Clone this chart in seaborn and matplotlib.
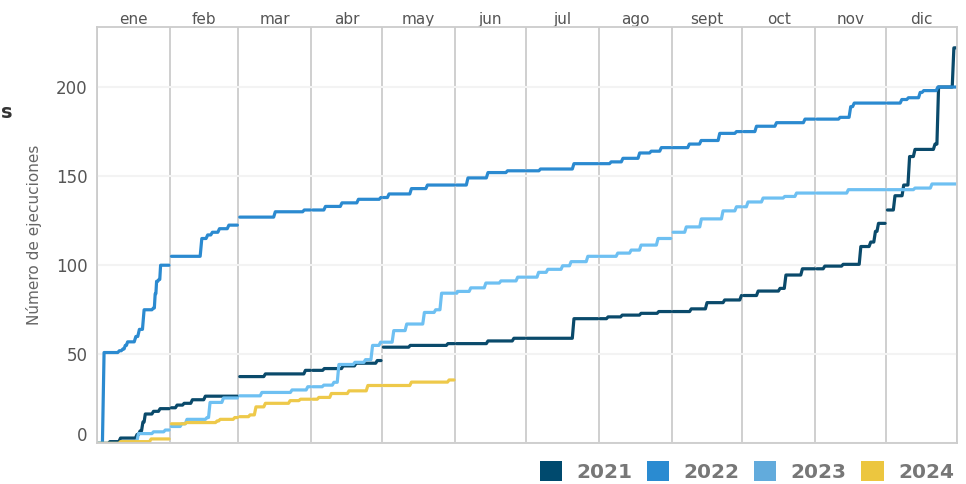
import numpy as np
import pandas as pd
import seaborn as sns
import matplotlib.pyplot as plt
import matplotlib.transforms as mtransforms
from matplotlib.patches import Patch

# ---------------- data ----------------
months = ["ene", "feb", "mar", "abr", "may", "jun", "jul", "ago", "sept", "oct", "nov", "dic"]
month_starts = [0, 31, 60, 91, 121, 152, 182, 213, 244, 274, 305, 335, 365]
years = ["2021", "2022", "2023", "2024"]
yticks = [0, 50, 100, 150, 200]

days_2021 = [0, 5.5, 10, 17, 18.3, 19.5, 20.5, 24, 26.8, 31.5, 34, 37, 40.5, 46, 60.5, 71.5, 88.5,
             96.5, 104.5, 110, 119, 121, 133, 149, 166, 177, 202.5, 217, 223, 231, 238.5, 252.3,
             259, 266.5, 273.6, 280.7, 290, 292.5, 299.5, 309, 316.8, 324.3, 328.5, 330.5, 331.8,
             335.5, 338.8, 342.5, 345, 347.3, 355.8, 357.3, 363.8, 365]
vals_2021 = [0, 1, 3, 5, 7, 12, 16.5, 18, 19.5, 20, 21.5, 22.5, 24.5, 26.5, 37.5, 39, 41,
             42, 43.5, 45, 46.5, 54, 55, 56, 57.5, 59, 70, 71, 72, 73, 74, 75.5,
             79, 80.5, 83, 85.5, 87, 94.5, 98, 99.5, 100.5, 110.5, 113, 119, 123.5,
             131, 139, 145, 161, 165, 168, 200, 222, 222]

days_2022 = [0, 3, 9.5, 11, 12, 13, 16.5, 18, 20, 24, 24.7, 25.3, 26.3, 27, 31.5, 44.5, 47, 49,
             52, 56, 60.5, 75.7, 88, 97, 104, 111, 120.5, 124, 133.5, 140.3, 157.5, 166, 174.3,
             188.3, 202.5, 218.3, 223.3, 230.4, 235.3, 239.6, 251.5, 256.5, 264.4, 271.5, 280,
             288.5, 300.6, 315.5, 320, 321.5, 341.7, 344.5, 349.5, 351, 357, 365]
vals_2022 = [0, 51, 52, 53, 55, 57, 60, 64, 75, 76, 84, 91, 92, 100, 105, 115, 117, 118.5,
             120.5, 122.5, 127, 130, 131, 133, 135, 137, 138, 140, 143, 145, 149, 152, 153,
             154, 157, 158, 160, 163, 164, 166, 168, 170, 174, 175, 178,
             180, 182, 183, 189, 191, 193, 194, 197, 198, 200, 200]

days_2023 = [0, 11, 17.6, 24, 29, 31.5, 36, 38.2, 46.7, 48, 53.7, 60.5, 70, 82.8, 89.5, 96.3,
             100.6, 102.7, 109.5, 114, 117, 120.4, 126, 131.5, 139, 143.8, 146.3, 153, 158.7,
             165.1, 171.5, 178.6, 187.5, 191.4, 197.7, 201.3, 208.4, 221.1, 226.8, 231, 238.2,
             243.8, 250.2, 256.6, 265.8, 271.5, 276.4, 282.8, 292, 297, 319, 347.3, 354.5, 365]
vals_2023 = [0, 1, 5.5, 6.5, 7.5, 9.5, 11, 13.5, 14.5, 23, 25.5, 26.7, 28.6, 30, 31.8, 32.7,
             34.3, 44.3, 45.5, 47, 55, 56.8, 63.3, 67, 73.5, 75, 84.3, 85.3, 87.3,
             90, 91.2, 93.3, 96, 97.7, 99.7, 102, 105, 106.8, 108.5, 111.3, 115,
             118.5, 121.5, 126, 130.5, 132.8, 135.5, 137.7, 138.6, 140.5, 142.4, 143.3, 145.6, 145.6]

days_2024 = [0, 10, 23, 31.5, 38, 51, 52.3, 58.5, 60.5, 65, 67.5, 71.5, 82, 86.4, 94.2, 99.5,
             107, 115, 133.5, 149.5, 152]
vals_2024 = [0, 1, 2.5, 11, 11.7, 12.6, 13.5, 14.5, 15, 16, 20.5, 22.5, 24, 24.8, 25.8, 28,
             29.5, 32.5, 34.4, 35.6, 35.6]

line_colors = ["#0a4a6b", "#2b8ad0", "#6ec0f2", "#eec94a"]
legend_colors = ["#004a6e", "#2a8bd1", "#62abdc", "#ecc63f"]

series = {"2021": (days_2021, vals_2021), "2022": (days_2022, vals_2022),
          "2023": (days_2023, vals_2023), "2024": (days_2024, vals_2024)}


def value_at(days, vals, x):
    idx = np.searchsorted(np.asarray(days), x, side="right") - 1
    return vals[max(idx, 0)]


RAMP = 0.7  # each daily change drawn as a short ramp, like the reference
rows = []
for yr, (d, v) in series.items():
    last = d[-1]
    for m in range(12):
        a, b = month_starts[m], month_starts[m + 1]
        if a >= last:
            break
        start = a + 0.6 if m > 0 else a
        end = min(b - 0.4 if m < 11 else b, last)
        seg = f"{yr}-{m}"
        pts = [(start, value_at(d, v, start))]
        for di, vi in zip(d, v):
            if start < di < end:
                pts.append((di, vi))
        pts.append((end, value_at(d, v, end)))
        rows.append((yr, seg, pts[0][0], pts[0][1]))
        for (x0, y0), (x1, y1) in zip(pts[:-1], pts[1:]):
            if y1 != y0:
                r = min(RAMP, (x1 - x0) / 2)
                rows.append((yr, seg, x1 - r, y0))
            rows.append((yr, seg, x1, y1))

df = pd.DataFrame(rows, columns=["year", "seg", "day", "value"])

# ---------------- figure ----------------
sns.set_theme(style="white")
plt.rcParams["font.family"] = ["DejaVu Sans"]

fig = plt.figure(figsize=(9.66, 4.84), dpi=100)
ax = fig.add_axes([97 / 966, 1 - 443.4 / 484, (956.7 - 97) / 966, (443.4 - 27) / 484])

sns.lineplot(data=df, x="day", y="value", hue="year", units="seg", estimator=None,
             palette=dict(zip(years, line_colors)), hue_order=years,
             linewidth=2.3, legend=False, ax=ax)

ax.set_xlim(0, 365)
ax.set_ylim(0, 233.7)

# month grid lines and labels
ax.set_xticks(month_starts)
ax.set_xticklabels([])
centers = [(month_starts[i] + month_starts[i + 1]) / 2 for i in range(12)]
ax.set_xticks(centers, minor=True)
ax.set_xticklabels(months, minor=True)
ax.tick_params(axis="x", which="both", length=0, bottom=False, labelbottom=False,
               top=False, labeltop=True)
ax.tick_params(axis="x", which="minor", labelsize=11, labelcolor="#555555", pad=0)
ax.grid(axis="x", which="major", color="#cccccc", linewidth=1.3)

ax.set_yticks(yticks)
ax.set_yticklabels([str(t) for t in yticks])
ax.tick_params(axis="y", length=0, labelsize=12, labelcolor="#555555", pad=7)
ax.grid(axis="y", which="major", color="#f3f3f3", linewidth=1.5)
ax.set_axisbelow(True)

# lift the "0" label slightly like the reference
lbl0 = ax.get_yticklabels()[0]
lbl0.set_transform(lbl0.get_transform() + mtransforms.ScaledTranslation(0, 9 / 100, fig.dpi_scale_trans))

for s in ax.spines.values():
    s.set_color("#cccccc")
    s.set_linewidth(1.3)

ax.set_xlabel("")
ax.set_ylabel("Número de ejecuciones", fontsize=11, color="#666666")
ax.yaxis.set_label_coords((42 - 97) / 860, 0.5)

fig.text(0.5 / 966, 1 - 113 / 484, "s", ha="left", va="center", fontsize=14,
         fontweight="bold", color="#333333")

handles = [Patch(facecolor=c, edgecolor="none", label=y) for c, y in zip(legend_colors, years)]
leg = fig.legend(handles=handles, loc="lower right", bbox_to_anchor=(954 / 966, 2 / 484),
                 ncol=4, frameon=False, prop={"size": 14.5, "weight": "bold"},
                 labelcolor="#777777", handlelength=1.1, handleheight=1.1,
                 handletextpad=0.72, columnspacing=0.72, borderpad=0, borderaxespad=0)

fig.savefig("out.png", dpi=100, facecolor="white")
